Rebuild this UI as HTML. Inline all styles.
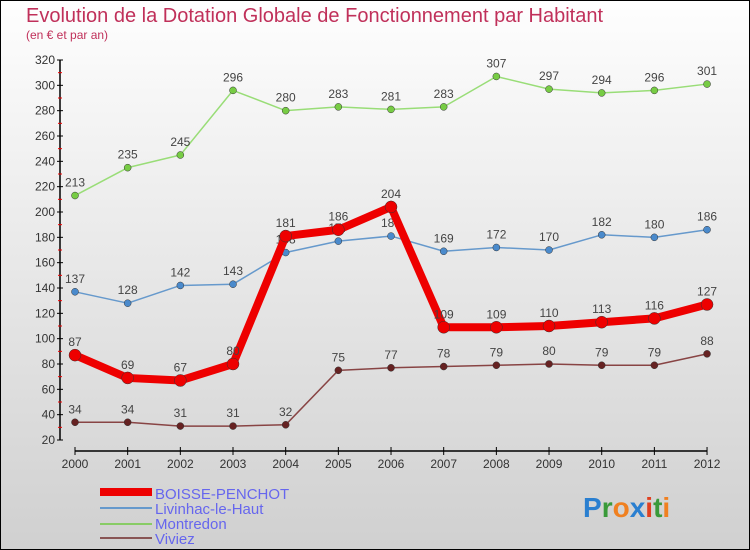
<!DOCTYPE html>
<html><head><meta charset="utf-8"><style>
body{margin:0}
#c{width:750px;height:550px;position:relative;box-sizing:border-box;border:1px solid #000;background:linear-gradient(#fefefe,#d0d0d0);font-family:"Liberation Sans",sans-serif;overflow:hidden}
</style></head><body>
<div id="c">
<svg id="s" width="750" height="550" style="position:absolute;left:-1px;top:-1px">
<text x="26" y="22" font-size="20" fill="#c0305a">Evolution de la Dotation Globale de Fonctionnement par Habitant</text>
<text x="26" y="39" font-size="12" fill="#c0305a">(en € et par an)</text>
<g id="axes"></g><g id="series"></g>
<g>
<rect x="100" y="488" width="52" height="8" fill="#e00"/>
<text x="155" y="499" font-size="15" fill="#6666ee">BOISSE-PENCHOT</text>
<line x1="100" y1="508" x2="152" y2="508" stroke="#6699cc" stroke-width="2"/>
<text x="155" y="514" font-size="15" fill="#6666ee">Livinhac-le-Haut</text>
<line x1="100" y1="524" x2="152" y2="524" stroke="#88cc66" stroke-width="2"/>
<text x="155" y="529" font-size="15" fill="#6666ee">Montredon</text>
<line x1="100" y1="538" x2="152" y2="538" stroke="#885555" stroke-width="2"/>
<text x="155" y="544" font-size="15" fill="#6666ee">Viviez</text>
</g>
<g font-size="28" font-weight="bold">
<text x="583" y="517"><tspan fill="#2a7fd0">P</tspan><tspan fill="#3a9a3a">r</tspan><tspan fill="#f08020">o</tspan><tspan fill="#2a7fd0">x</tspan><tspan fill="#e04020">i</tspan><tspan fill="#3a9a3a">t</tspan><tspan fill="#f08020">i</tspan></text>
</g>
</svg>
</div>
<script>
const years=[2000,2001,2002,2003,2004,2005,2006,2007,2008,2009,2010,2011,2012];
const boisse=[87,69,67,80,181,186,204,109,109,110,113,116,127];
const livinhac=[137,128,142,143,168,177,181,169,172,170,182,180,186];
const montredon=[213,235,245,296,280,283,281,283,307,297,294,296,301];
const viviez=[34,34,31,31,32,75,77,78,79,80,79,79,88];
const yTicks=[20,40,60,80,100,120,140,160,180,200,220,240,260,280,300,320];
const NS='http://www.w3.org/2000/svg';
const X=i=>75+i*52.67, Y=v=>440-(v-20)*380/300;
function mk(tag,attrs,parent){const e=document.createElementNS(NS,tag);for(const k in attrs)e.setAttribute(k,attrs[k]);parent.appendChild(e);return e;}
const ax=document.getElementById('axes'), sg=document.getElementById('series');
let l=mk('line',{x1:60,y1:Y(320),x2:60,y2:Y(20),stroke:'#000','stroke-width':1.5},ax);


l=mk('line',{x1:75,y1:451,x2:707,y2:451,stroke:'#000','stroke-width':1.5},ax);


yTicks.forEach((v,i)=>{
 mk('line',{x1:57,y1:Y(v),x2:63,y2:Y(v),stroke:'#000'},ax);
 if(i<yTicks.length-1) mk('line',{x1:58,y1:Y(v+10),x2:62,y2:Y(v+10),stroke:'#e00'},ax);
 const t=mk('text',{x:55,y:Y(v)+4,'font-size':12,'text-anchor':'end',fill:'#333'},ax);t.textContent=v;
 
 
});
years.forEach((y,i)=>{
 mk('line',{x1:X(i),y1:447,x2:X(i),y2:455,stroke:'#000'},ax);
 const t=mk('text',{x:X(i),y:468,'font-size':12,'text-anchor':'middle',fill:'#333'},ax);t.textContent=y;
 
 
});
function series(data,color,dot,w,r,name){
 const g=mk('g',{},sg);
 
 
 const p=mk('polyline',{points:data.map((v,i)=>X(i)+','+Y(v)).join(' '),fill:'none',stroke:color,'stroke-width':w,'stroke-linejoin':'round'},g);
 
 
 data.forEach((v,i)=>{
  const c=mk('circle',{cx:X(i),cy:Y(v),r:r,fill:dot,stroke:'#333','stroke-width':0.5},g);
  
  
  const t=mk('text',{x:X(i),y:Y(v)-9,'font-size':12,'text-anchor':'middle',fill:'#444'},g);t.textContent=v;
  
  
 });
}
series(viviez,'#884444','#662222',1.5,3.5,'viviez');
series(montredon,'#99dd77','#77cc44',1.5,3.5,'montredon');
series(livinhac,'#6699cc','#4a8acc',1.5,3.5,'livinhac');
series(boisse,'#ee0000','#ee0000',8,6,'boisse');
</script>
</body></html>
